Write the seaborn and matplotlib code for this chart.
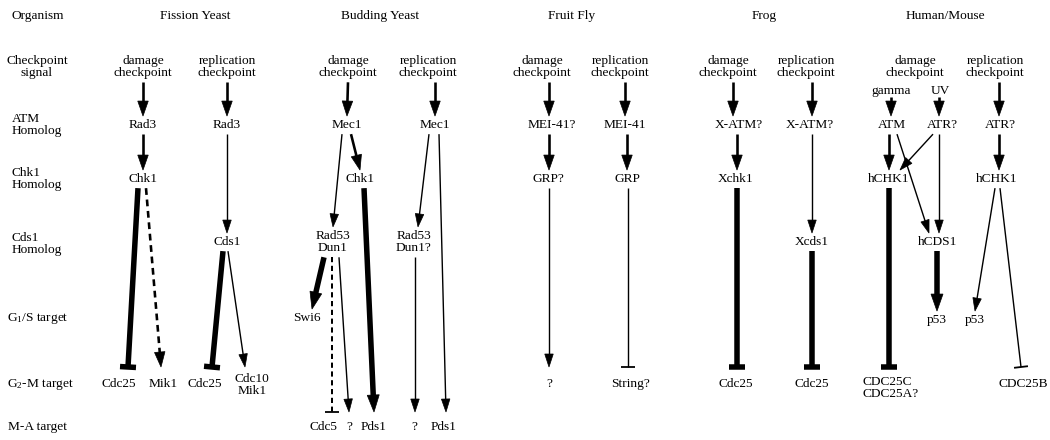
import numpy as np
import matplotlib.pyplot as plt
from matplotlib.patches import Polygon
import seaborn as sns

# ---- diagram content ----
row_labels = ["Organism", "Checkpoint\nsignal", "ATM\nHomolog", "Chk1\nHomolog",
              "Cds1\nHomolog", "G$_1$/S target", "G$_2$-M target", "M-A target"]
row_label_x = [12, 37, 12, 12, 12, 7, 7, 8]
row_label_y = [16, 67, 125, 179, 244, 318, 384, 427]

organisms = ["Fission Yeast", "Budding Yeast", "Fruit Fly", "Frog", "Human/Mouse"]
organism_x = [195, 380, 572, 764, 945]

DMG = "damage\ncheckpoint"
REP = "replication\ncheckpoint"

# id: (label, x, y)  -- layout of the pathway nodes
nodes = {
    # fission yeast
    "f_sd": (DMG, 143, 67), "f_sr": (REP, 227, 67),
    "f_rad3a": ("Rad3", 143, 125), "f_rad3b": ("Rad3", 227, 125),
    "f_chk1": ("Chk1", 143, 179), "f_cds1": ("Cds1", 227, 242),
    "f_cdc25a": ("Cdc25", 119, 384), "f_mik1": ("Mik1", 163, 384),
    "f_cdc25b": ("Cdc25", 205, 384), "f_cdc10": ("Cdc10\nMik1", 252, 385),
    # budding yeast
    "b_sd": (DMG, 348, 67), "b_sr": (REP, 428, 67),
    "b_mec1a": ("Mec1", 347, 125), "b_mec1b": ("Mec1", 435, 125),
    "b_chk1": ("Chk1", 360, 179),
    "b_rad53a": ("Rad53\nDun1", 333, 242), "b_rad53b": ("Rad53\nDun1?", 414, 242),
    "b_swi6": ("Swi6", 307, 318),
    "b_cdc5": ("Cdc5", 323, 427), "b_qa": ("?", 349, 427), "b_pds1a": ("Pds1", 374, 427),
    "b_qb": ("?", 414, 427), "b_pds1b": ("Pds1", 444, 427),
    # fruit fly
    "d_sd": (DMG, 542, 67), "d_sr": (REP, 620, 67),
    "d_meia": ("MEI-41?", 552, 125), "d_meib": ("MEI-41", 625, 125),
    "d_grpa": ("GRP?", 548, 179), "d_grpb": ("GRP", 627, 179),
    "d_q": ("?", 549, 384), "d_string": ("String?", 630, 384),
    # frog
    "x_sd": (DMG, 728, 67), "x_sr": (REP, 806, 67),
    "x_atma": ("X-ATM?", 739, 125), "x_atmb": ("X-ATM?", 810, 125),
    "x_chk1": ("Xchk1", 736, 179), "x_cds1": ("Xcds1", 812, 242),
    "x_cdc25a": ("Cdc25", 736, 384), "x_cdc25b": ("Cdc25", 812, 384),
    # human / mouse
    "h_sd": (DMG, 915, 67), "h_sr": (REP, 995, 67),
    "h_gamma": ("gamma", 891, 91), "h_uv": ("UV", 940, 91),
    "h_atm": ("ATM", 892, 125), "h_atra": ("ATR?", 942, 125), "h_atrb": ("ATR?", 1000, 125),
    "h_chk1a": ("hCHK1", 889, 179), "h_chk1b": ("hCHK1", 997, 179),
    "h_cds1": ("hCDS1", 938, 242),
    "h_p53a": ("p53", 937, 320), "h_p53b": ("p53", 975, 320),
    "h_cdc25c": ("CDC25C\nCDC25A?", 891, 388), "h_cdc25b": ("CDC25B", 1023, 384),
}
left_aligned_nodes = ["h_cdc25c"]
short_bottom = {"h_gamma": 97, "h_uv": 97}

# (source, target, source x-shift, target x-shift, effect, weight, dashed)
edges = [
    ("f_sd", "f_rad3a", 0, 0, "act", "mid", False),
    ("f_sr", "f_rad3b", 0, 0, "act", "mid", False),
    ("f_rad3a", "f_chk1", 0, 0, "act", "mid", False),
    ("f_rad3b", "f_cds1", 0, 0, "act", "thin", False),
    ("f_chk1", "f_cdc25a", -5, 9, "inh", "thick", False),
    ("f_chk1", "f_mik1", 3, -2, "act", "mid", True),
    ("f_cds1", "f_cdc25b", -4, 7, "inh", "thick", False),
    ("f_cds1", "f_cdc10", 1, -7, "act", "thin", False),

    ("b_sd", "b_mec1a", 0, 0, "act", "mid", False),
    ("b_sr", "b_mec1b", 7, 0, "act", "mid", False),
    ("b_mec1a", "b_rad53a", -5, 0, "act", "thin", False),
    ("b_mec1a", "b_chk1", 4, 0, "act", "mid", False),
    ("b_chk1", "b_pds1a", 4, 0, "act", "thick", False),
    ("b_rad53a", "b_swi6", -9, 5, "act", "thick", False),
    ("b_rad53a", "b_cdc5", -1, 9, "inh", "thin", True),
    ("b_rad53a", "b_qa", 6, 0, "act", "thin", False),
    ("b_mec1b", "b_rad53b", -6, 4, "act", "thin", False),
    ("b_rad53b", "b_qb", 1, 1, "act", "thin", False),
    ("b_mec1b", "b_pds1b", 4, 2, "act", "thin", False),

    ("d_sd", "d_meia", 7, -3, "act", "mid", False),
    ("d_sr", "d_meib", 5, 0, "act", "mid", False),
    ("d_meia", "d_grpa", -3, 1, "act", "mid", False),
    ("d_meib", "d_grpb", 2, 0, "act", "mid", False),
    ("d_grpa", "d_q", 1, 0, "act", "thin", False),
    ("d_grpb", "d_string", 1, -2, "inh", "thin", False),

    ("x_sd", "x_atma", 5, -6, "act", "mid", False),
    ("x_sr", "x_atmb", 6, 2, "act", "mid", False),
    ("x_atma", "x_chk1", -2, 1, "act", "mid", False),
    ("x_atmb", "x_cds1", 2, 0, "act", "thin", False),
    ("x_chk1", "x_cdc25a", 1, 1, "inh", "thick", False),
    ("x_cds1", "x_cdc25b", 0, 0, "inh", "thick", False),

    ("h_gamma", "h_atm", 0, -1, "act", "mid", False),
    ("h_uv", "h_atra", -1, -3, "act", "mid", False),
    ("h_sr", "h_atrb", 4, -1, "act", "mid", False),
    ("h_atm", "h_chk1a", -3, 0, "act", "mid", False),
    ("h_atm", "h_cds1", 5, -9, "act", "thin", False),
    ("h_atra", "h_chk1a", -9, 11, "act", "thin", False),
    ("h_atra", "h_cds1", -3, 1, "act", "thin", False),
    ("h_atrb", "h_chk1b", -1, 2, "act", "mid", False),
    ("h_chk1a", "h_cdc25c", 0, -2, "inh", "thick", False),
    ("h_cds1", "h_p53a", -1, 0, "act", "thick", False),
    ("h_chk1b", "h_p53b", -2, 0, "act", "thin", False),
    ("h_chk1b", "h_cdc25b", 3, -2, "inh", "thin", False),
]

# ---- styling ----
sns.set_theme(style="white")
plt.rcParams["font.family"] = ["Liberation Serif", "DejaVu Serif"]
plt.rcParams["mathtext.fontset"] = "custom"
plt.rcParams["mathtext.rm"] = "Liberation Serif"
plt.rcParams["mathtext.it"] = "Liberation Serif:italic"

FS = 9.6
LINE_H = 12.3
PX = 72 / 100  # px -> pt
# weight: (shaft px, head length px, head width px, bar width px)
weights = {"thin": (1.4, 13, 8.5, 14), "mid": (2.6, 15, 10.5, 15), "thick": (5.5, 17, 12, 16)}


def n_lines(label):
    return label.count("\n") + 1


def top_of(key):
    label, x, y = nodes[key]
    if y >= 400:
        return 412
    if y >= 365:
        return 367
    return y - LINE_H * n_lines(label) / 2 - 2.8


def bottom_of(key):
    label, x, y = nodes[key]
    if key in short_bottom:
        return short_bottom[key]
    return y + LINE_H * n_lines(label) / 2 + 3


def draw_edge(ax, p0, p1, effect, weight, dashed):
    lw, hl, hw, bw = weights[weight]
    if dashed and weight == "thin":
        lw = 2.0
    p0, p1 = np.array(p0, float), np.array(p1, float)
    d = (p1 - p0) / np.hypot(*(p1 - p0))
    n = np.array([-d[1], d[0]])
    ls = (0, (2.6, 1.8)) if dashed else "-"
    if effect == "act":
        base = p1 - d * hl
        end = base + d * 2
        ax.plot([p0[0], end[0]], [p0[1], end[1]], color="black", lw=lw * PX,
                linestyle=ls, solid_capstyle="butt", dash_capstyle="butt")
        tri = [p1, base + n * hw / 2, base - n * hw / 2]
        ax.add_patch(Polygon(tri, closed=True, facecolor="black", edgecolor="black", lw=0.5))
    else:
        ax.plot([p0[0], p1[0]], [p0[1], p1[1]], color="black", lw=lw * PX,
                linestyle=ls, solid_capstyle="butt", dash_capstyle="butt")
        bar_lw = max(lw, 2.0) if weight == "thick" else 1.8
        a, b = p1 + n * bw / 2, p1 - n * bw / 2
        ax.plot([a[0], b[0]], [a[1], b[1]], color="black", lw=bar_lw * PX, solid_capstyle="butt")


fig = plt.figure(figsize=(10.5, 4.4), dpi=100)
ax = fig.add_axes([0, 0, 1, 1])
ax.set_xlim(0, 1050)
ax.set_ylim(440, 0)
ax.axis("off")

for lab, x, y in zip(row_labels, row_label_x, row_label_y):
    ha = "center" if lab.startswith("Checkpoint") else "left"
    ax.text(x, y, lab, ha=ha, va="center", fontsize=FS, linespacing=0.95, color="black")

for name, x in zip(organisms, organism_x):
    ax.text(x, 16, name, ha="center", va="center", fontsize=FS, color="black")

for key, (label, x, y) in nodes.items():
    ma = "left" if key in left_aligned_nodes else "center"
    ax.text(x, y, label, ha="center", va="center", fontsize=FS, linespacing=0.95,
            multialignment=ma, color="black")

for src, dst, sx, tx, effect, weight, dashed in edges:
    p0 = (nodes[src][1] + sx, bottom_of(src))
    p1 = (nodes[dst][1] + tx, top_of(dst))
    draw_edge(ax, p0, p1, effect, weight, dashed)

fig.savefig("out.png", dpi=100, facecolor="white")
